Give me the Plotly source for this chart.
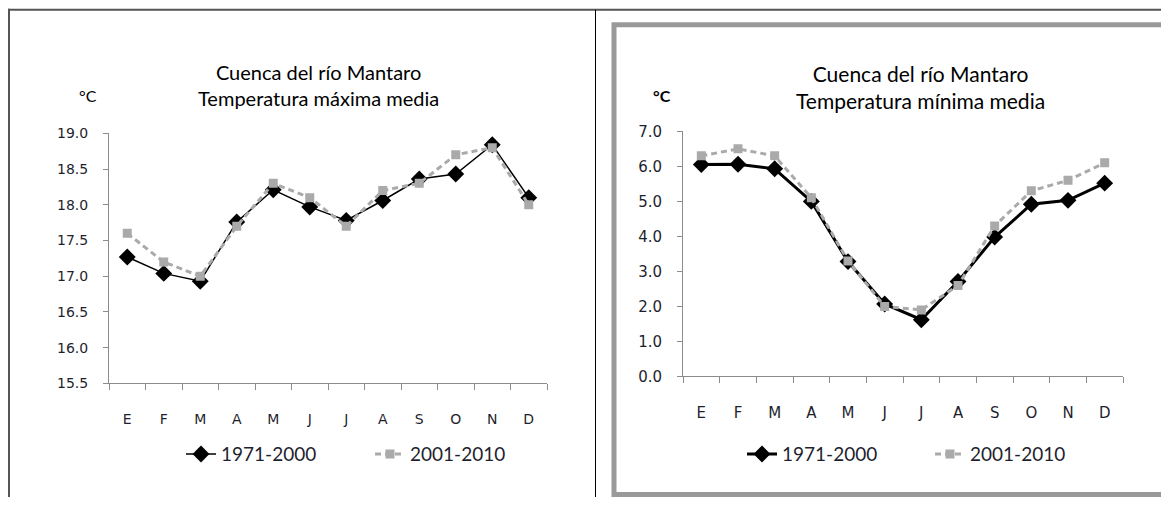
import plotly.graph_objects as go

months = ["E", "F", "M", "A", "M", "J", "J", "A", "S", "O", "N", "D"]
series_names = ["1971-2000", "2001-2010"]

tmax_1971_2000 = [17.27, 17.04, 16.93, 17.76, 18.21, 17.97, 17.78, 18.06, 18.36, 18.43, 18.84, 18.10]
tmax_2001_2010 = [17.60, 17.20, 17.00, 17.70, 18.30, 18.10, 17.70, 18.20, 18.30, 18.70, 18.80, 18.00]

tmin_1971_2000 = [6.05, 6.06, 5.93, 5.00, 3.28, 2.07, 1.62, 2.71, 3.98, 4.92, 5.03, 5.52]
tmin_2001_2010 = [6.30, 6.50, 6.30, 5.10, 3.30, 2.00, 1.90, 2.60, 4.30, 5.30, 5.60, 6.10]

title_left = ["Cuenca del río Mantaro", "Temperatura máxima media"]
title_right = ["Cuenca del río Mantaro", "Temperatura mínima media"]
unit_label = "°C"

W, H = 1161, 506
xs = list(range(len(months)))
bounds = [i - 0.5 for i in range(len(months) + 1)]

TXT = "#1f1f2e"
AX = "#8c8c8c"
GRAY = "#aaaaaa"
TITLE_FONT = "Lato"
TICK_FONT = "DejaVu Sans"

# layout helpers: pixel positions (as seen in the photographed page) -> paper fractions
SY, OY = 0.968, 8.2


def px(x):
    return x / W


def py(y):
    return 1 - ((y - OY) / SY) / H


fig = go.Figure()

# Left chart
fig.add_trace(go.Scatter(x=xs, y=tmax_1971_2000, name=series_names[0], mode="lines+markers",
                         line=dict(color="black", width=1.5),
                         marker=dict(symbol="diamond", size=13, color="black"),
                         xaxis="x", yaxis="y", legend="legend"))
fig.add_trace(go.Scatter(x=xs, y=tmax_2001_2010, name=series_names[1], mode="lines+markers",
                         line=dict(color=GRAY, width=3, dash="6px,4px"),
                         marker=dict(symbol="square", size=9, color=GRAY),
                         xaxis="x", yaxis="y", legend="legend"))
# Right chart
fig.add_trace(go.Scatter(x=xs, y=tmin_1971_2000, name=series_names[0], mode="lines+markers",
                         line=dict(color="black", width=3),
                         marker=dict(symbol="diamond", size=13, color="black"),
                         xaxis="x2", yaxis="y2", legend="legend2"))
fig.add_trace(go.Scatter(x=xs, y=tmin_2001_2010, name=series_names[1], mode="lines+markers",
                         line=dict(color=GRAY, width=3, dash="6px,4px"),
                         marker=dict(symbol="square", size=9, color=GRAY),
                         xaxis="x2", yaxis="y2", legend="legend2"))


def xaxis_cfg(domain, anchor, size):
    return dict(domain=domain, anchor=anchor, range=[-0.5, len(months) - 0.5],
                tickmode="array", tickvals=xs, ticktext=months, ticks="",
                showline=True, linecolor=AX, linewidth=1, showgrid=False, zeroline=False,
                tickfont=dict(family=TICK_FONT, size=size, color=TXT),
                ticklabelstandoff=23,
                minor=dict(tickmode="array", tickvals=bounds, ticks="outside", ticklen=6,
                           tickcolor=AX, tickwidth=1, showgrid=False),
                fixedrange=True)


def yaxis_cfg(domain, anchor, rng, dtick, size):
    return dict(domain=domain, anchor=anchor, range=rng, dtick=dtick, tick0=rng[0],
                tickformat=".1f", ticks="outside", ticklen=5, tickcolor=AX,
                showline=True, linecolor=AX, linewidth=1, showgrid=False, zeroline=False,
                tickfont=dict(family=TICK_FONT, size=size, color=TXT),
                ticklabelstandoff=12, fixedrange=True)


fig.update_layout(
    width=W, height=H, margin=dict(l=0, r=0, t=0, b=0),
    paper_bgcolor="white", plot_bgcolor="white",
    xaxis=xaxis_cfg([px(109), px(547)], "y", 14),
    yaxis=yaxis_cfg([py(384), py(133)], "x", [15.5, 19.0], 0.5, 14),
    xaxis2=xaxis_cfg([px(683), px(1123)], "y2", 15),
    yaxis2=yaxis_cfg([py(377), py(131)], "x2", [0.0, 7.0], 1.0, 15),
    legend=dict(orientation="h", x=px(181), y=py(455), xanchor="left", yanchor="middle",
                font=dict(family=TITLE_FONT, size=19, color=TXT), bgcolor="rgba(0,0,0,0)",
                entrywidth=144, itemwidth=30),
    legend2=dict(orientation="h", x=px(742), y=py(455), xanchor="left", yanchor="middle",
                 font=dict(family=TITLE_FONT, size=19, color=TXT), bgcolor="rgba(0,0,0,0)",
                 entrywidth=143, itemwidth=30),
    showlegend=True,
)

# Titles and unit labels
fig.add_annotation(text="<br>".join(title_left), x=px(318), y=py(84), xref="paper", yref="paper",
                   showarrow=False, font=dict(family=TITLE_FONT, size=20, color="black"),
                   xanchor="center", yanchor="middle")
fig.add_annotation(text=unit_label, x=px(88), y=py(95), xref="paper", yref="paper",
                   showarrow=False, font=dict(family=TITLE_FONT, size=16, color="black"),
                   xanchor="center", yanchor="middle")
fig.add_annotation(text="<br>".join(title_right), x=px(920), y=py(86), xref="paper", yref="paper",
                   showarrow=False, font=dict(family=TITLE_FONT, size=21, color="black"),
                   xanchor="center", yanchor="middle")
fig.add_annotation(text="<b>" + unit_label + "</b>", x=px(662), y=py(95), xref="paper", yref="paper",
                   showarrow=False, font=dict(family=TITLE_FONT, size=16, color="black"),
                   xanchor="center", yanchor="middle")

# Frames
fig.add_shape(type="line", xref="paper", yref="paper", x0=px(8), x1=1, y0=py(9), y1=py(9),
              line=dict(color="#555555", width=2))
fig.add_shape(type="line", xref="paper", yref="paper", x0=px(9), x1=px(9), y0=0, y1=py(8),
              line=dict(color="#555555", width=2))
fig.add_shape(type="line", xref="paper", yref="paper", x0=px(595.5), x1=px(595.5), y0=0, y1=py(9),
              line=dict(color="black", width=1))
fig.add_shape(type="rect", xref="paper", yref="paper", x0=px(614), x1=1.01, y0=py(495.5), y1=py(24),
              line=dict(color="#999999", width=5), fillcolor="rgba(0,0,0,0)")

fig.write_html(
    "out.html",
    config={"displayModeBar": False, "staticPlot": True},
    post_script=(
        "document.documentElement.style.margin='0';"
        "document.documentElement.style.overflow='hidden';"
        "document.body.style.margin='0';document.body.style.overflow='hidden';"
        "var gd=document.getElementById('{plot_id}');"
        "gd.style.position='fixed';gd.style.top='0px';gd.style.left='0px';"
    ),
)
